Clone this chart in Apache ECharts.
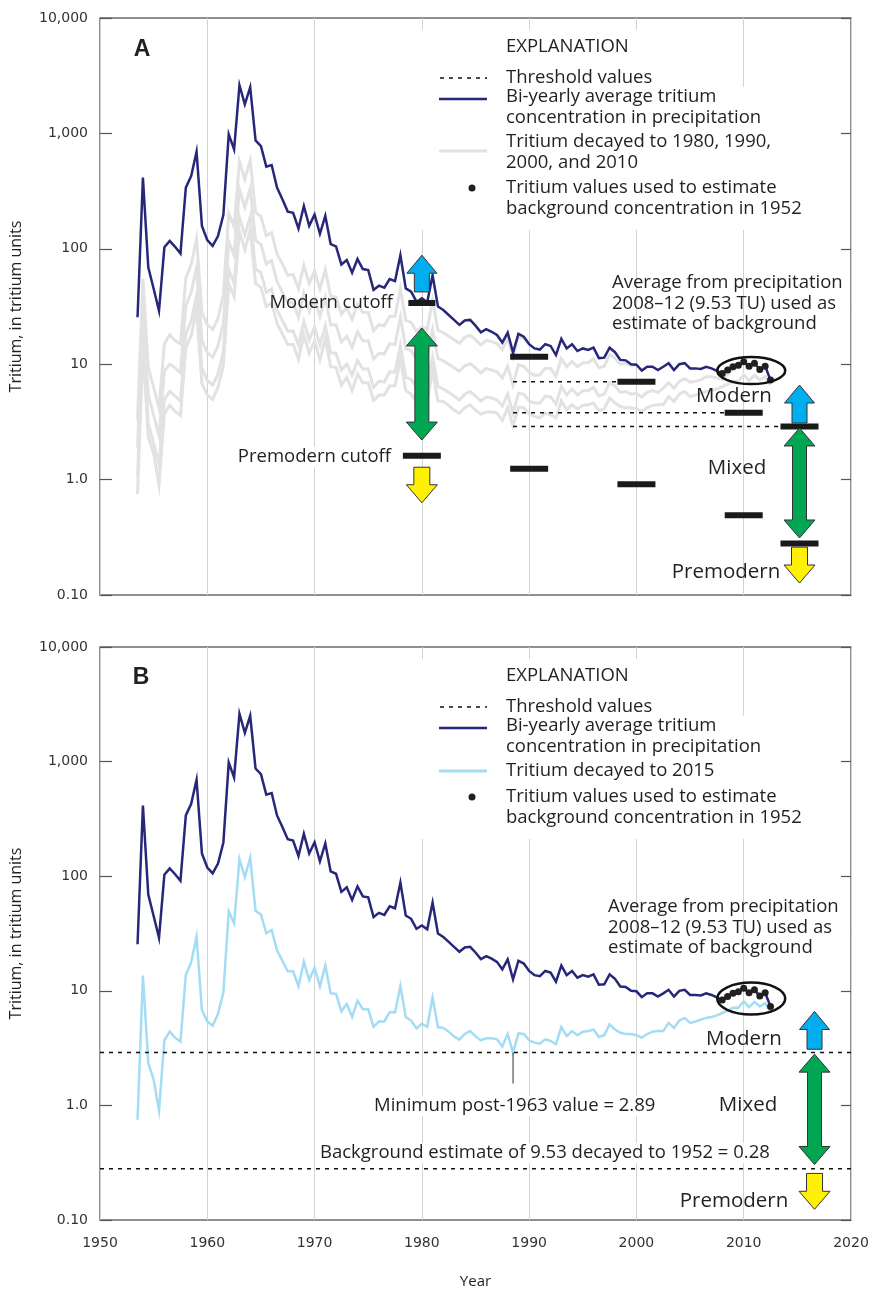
<!DOCTYPE html>
<html>
<head>
<meta charset="utf-8">
<script src="https://cdn.jsdelivr.net/npm/echarts@6/dist/echarts.min.js"></script>
<style>
html, body { margin: 0; padding: 0; background: #fff; }
#container { width: 876px; height: 1290px; }
</style>
</head>
<body>
<div id="container"></div>
<script>
// sampling: one value every half year starting mid-1953
var firstYear = 1953.5;
var stepYears = 0.5;

// bi-yearly average tritium in precipitation, TU
var precipTritium = [
  25.5, 414, 69, 45, 29, 103, 117, 104, 91, 339,
  428, 694, 158, 119, 106, 129, 197, 980, 728, 2617,
  1782, 2512, 870, 777, 515, 532, 339, 269, 210, 205,
  150, 235, 158, 198, 135, 193, 110, 105, 73, 80,
  62, 81.5, 66.7, 65.4, 44, 47.9, 46, 54.7, 52.5, 88,
  45.4, 42.5, 34.8, 37.2, 34.4, 59, 31.6, 29.5, 26.7, 24.2,
  21.9, 23.9, 24.2, 21.6, 18.9, 20.1, 19.1, 17.9, 15.4, 18.8,
  12.6, 18.3, 17.3, 14.9, 13.7, 13.4, 14.9, 14.4, 12.0, 16.6,
  13.7, 14.9, 13.0, 13.7, 13.3, 13.9, 11.3, 11.4, 13.9, 12.7,
  10.9, 10.8, 10.0, 9.9, 8.8, 9.5, 9.5, 8.9, 9.5, 10.2,
  8.9, 10.0, 10.2, 9.2, 9.2, 9.1, 9.5, 9.2, 8.75, 8.3,
  8.9, 9.5, 9.8, 10.5, 9.6, 10.2, 9.0, 9.6, 7.3
];

// panel B light-blue line: record decayed to 2015, TU
var decayedTo2015 = [
  0.75, 13.6, 2.34, 1.68, 0.9, 3.7, 4.4, 3.9, 3.6, 13.8,
  17.7, 29.5, 6.8, 5.4, 4.95, 6.3, 9.7, 49.5, 38.7, 141,
  98, 145, 50, 46.3, 31.7, 33.9, 22.6, 18.3, 14.8, 14.8,
  11.0, 17.9, 12.4, 15.9, 10.9, 16.6, 9.5, 9.4, 6.6, 7.7,
  5.9, 8.2, 6.9, 6.9, 4.85, 5.4, 5.4, 6.5, 6.5, 11.0,
  5.9, 5.5, 4.7, 5.15, 4.85, 8.75, 4.8, 4.75, 4.4, 4.0,
  3.75, 4.2, 4.45, 4.0, 3.7, 3.85, 3.85, 3.77, 3.26, 4.2,
  2.89, 4.25, 4.2, 3.7, 3.53, 3.45, 3.77, 3.65, 3.42, 4.82,
  4.03, 4.45, 4.1, 4.4, 4.45, 4.6, 3.95, 4.1, 5.1, 4.6,
  4.3, 4.2, 4.2, 4.1, 3.9, 4.2, 4.4, 4.45, 4.45, 5.25,
  4.75, 5.5, 5.8, 5.25, 5.4, 5.6, 5.8, 5.9, 6.1, 6.4,
  6.7, 7.1, 7.1, 8.1, 7.2, 8.0, 7.3, 7.8, 6.6
];

// panel A grey lines (estimated from the figure), TU
var greyTo1990 = [
  3.3, 55, 9.4, 6.3, 4.2, 15, 18, 16, 15, 56,
  73, 122, 28, 22, 20, 25, 40, 203, 155, 574,
  402, 583, 207, 191, 130, 138, 90, 74, 59, 60,
  45, 72, 50, 64, 45, 66, 39, 38, 27, 31,
  24.5, 33, 28, 28, 19.5, 22, 21.5, 26, 26, 45,
  24, 23, 19.3, 21, 20, 36, 19.6, 18.8, 17.5, 16.3,
  15.2, 17.1, 17.8, 16.3, 14.7, 16.1, 15.7, 15.1, 13.4, 16.8,
  11.6, 17.3, 16.8, 14.9
];
var greyTo2000 = [
  1.9, 31, 5.4, 3.6, 2.4, 8.7, 10, 9.3, 8.4, 32,
  42, 69, 16, 12.6, 11.5, 14.4, 22.6, 116, 88, 327,
  229, 332, 118, 109, 74, 79, 52, 42, 34, 34,
  25.5, 41, 28.5, 37, 26, 38, 22, 22, 15.6, 17.5,
  14, 19, 16, 16, 11.1, 12.4, 12.3, 15, 14.8, 25.6,
  13.6, 13.1, 11, 12.1, 11.5, 20, 11.2, 10.7, 10, 9.3,
  8.7, 9.7, 10.1, 9.3, 8.4, 9.2, 8.9, 8.6, 7.6, 9.6,
  6.6, 9.9, 9.6, 8.5, 8.0, 8.1, 9.2, 9.2, 7.9, 11.2,
  9.5, 10.6, 9.5, 10.3, 10.3, 11.1, 9.3, 9.6, 12.1, 11.3,
  10, 10.2, 9.7, 9.9
];
var greyTo2010 = [
  1.07, 17.8, 3.05, 2.05, 1.36, 4.95, 5.8, 5.3, 4.8, 18.2,
  23.7, 39.5, 9.2, 7.2, 6.6, 8.2, 12.9, 66, 50.5, 187,
  131, 189, 67, 62, 42, 45, 29.4, 24, 19.3, 19.4,
  14.6, 23.5, 16.2, 20.9, 14.7, 21.6, 12.6, 12.4, 8.9, 10,
  8, 10.8, 9.1, 9.1, 6.3, 7.1, 7.0, 8.6, 8.5, 14.6,
  7.7, 7.4, 6.3, 6.9, 6.6, 11.6, 6.4, 6.1, 5.7, 5.3,
  4.9, 5.5, 5.8, 5.3, 4.8, 5.2, 5.1, 4.9, 4.35, 5.5,
  3.76, 5.6, 5.5, 4.8, 4.6, 4.6, 5.3, 5.2, 4.5, 6.4,
  5.4, 6.1, 5.4, 5.9, 5.9, 6.3, 5.3, 5.5, 6.9, 6.5,
  5.7, 5.8, 5.5, 5.6, 5.2, 5.7, 5.9, 5.7, 6.2, 6.9,
  6.2, 7.1, 7.5, 7.0, 7.1, 7.3, 7.8, 7.8, 7.6, 7.4,
  8.2, 9.0, 9.5, 10.5
];

// samples 2008-12 used for the background estimate
var backgroundFrom = 109;
var backgroundTo = 118;

// panel A cutoff bars
var cutoffYears = [1980, 1990, 2000, 2010, 2015.2];
var modernCutoff = [33.9, 11.6, 7.05, 3.8, 2.89];
var premodernCutoff = [1.61, 1.24, 0.91, 0.49, 0.28];

// threshold lines
var minimumYear = 1988.5;
var minimumValue = 2.89;
var backgroundValue = 0.28;

var yTickLabels = ['0.10', '1.0', '10', '100', '1,000', '10,000'];
var xMin = 1950, xMax = 2020, xStep = 10;

function toPairs(values, from, to) {
  var out = [];
  var last = to === undefined ? values.length - 1 : to;
  for (var i = from || 0; i <= last; i++) {
    out.push([firstYear + i * stepYears, values[i]]);
  }
  return out;
}

var textFont = '"Open Sans", Lato, sans-serif';
var tickFont = '"DejaVu Sans", Verdana, sans-serif';
var textColor = '#231f20';
var navy = '#27277a';
var lightBlue = '#a3dcf5';
var grey = '#e2e2e2';

function makeGrid(top) {
  return { left: 100, top: top, width: 751, height: 577, show: true,
           borderColor: '#6b6b6b', borderWidth: 1.5 };
}

function makeX(gridIndex, showLabels) {
  return {
    type: 'value', gridIndex: gridIndex, min: xMin, max: xMax, interval: xStep,
    axisLine: { show: false }, axisTick: { show: false },
    axisLabel: { show: showLabels, margin: 16, color: '#333', fontSize: 14,
                 fontFamily: tickFont, formatter: function (v) { return String(v); } },
    splitLine: { show: true, lineStyle: { color: '#d2d2d2', width: 1 } },
    name: showLabels ? 'Year' : '', nameLocation: 'middle', nameGap: 54,
    nameTextStyle: { fontFamily: textFont, fontSize: 15, color: textColor }
  };
}

function makeY(gridIndex, side) {
  var left = side === 'left';
  return {
    type: 'log', logBase: 10, gridIndex: gridIndex, position: side,
    min: 0.1, max: 10000,
    axisLine: { show: false },
    axisTick: { show: true, inside: true, length: left ? 12 : 10,
                lineStyle: { color: '#555', width: 1.2 } },
    minorTick: { show: false },
    splitLine: { show: false },
    axisLabel: {
      show: left, margin: 12, color: '#333', fontSize: 14, fontFamily: tickFont,
      formatter: function (v) {
        var e = Math.round(Math.log10(v));
        return yTickLabels[e + 1] || '';
      }
    },
    name: left ? 'Tritium, in tritium units' : '',
    nameLocation: 'middle', nameGap: 76,
    nameTextStyle: { fontFamily: textFont, fontSize: 16, color: textColor }
  };
}

function lineSeries(data, xi, yi, color, width, z) {
  return { type: 'line', xAxisIndex: xi, yAxisIndex: yi, data: data,
           showSymbol: false, symbol: 'none', z: z, silent: true,
           lineStyle: { color: color, width: width, join: 'miter' } };
}

function dottedSeries(data, xi, yi) {
  return { type: 'line', xAxisIndex: xi, yAxisIndex: yi, data: data,
           showSymbol: false, symbol: 'none', z: 6, silent: true,
           lineStyle: { color: '#111', width: 1.5, type: [4, 5] } };
}

function dotSeries(xi, yi) {
  return { type: 'scatter', xAxisIndex: xi, yAxisIndex: yi, z: 7, silent: true,
           symbolSize: 7, itemStyle: { color: '#231f20', opacity: 1 },
           data: toPairs(precipTritium, backgroundFrom, backgroundTo) };
}

var series = [];

// panel A
series.push(lineSeries(toPairs(decayedTo2015), 0, 0, grey, 3, 2));
series.push(lineSeries(toPairs(greyTo2010), 0, 0, grey, 3, 2));
series.push(lineSeries(toPairs(greyTo2000), 0, 0, grey, 3, 2));
series.push(lineSeries(toPairs(greyTo1990), 0, 0, grey, 3, 2));
series.push(lineSeries(toPairs(precipTritium), 0, 0, navy, 2.5, 4));
series.push(dottedSeries([[minimumYear, modernCutoff[2]], [cutoffYears[2], modernCutoff[2]]], 0, 0));
series.push(dottedSeries([[minimumYear, modernCutoff[3]], [cutoffYears[3], modernCutoff[3]]], 0, 0));
series.push(dottedSeries([[minimumYear, modernCutoff[4]], [cutoffYears[4], modernCutoff[4]]], 0, 0));
series.push({
  type: 'scatter', xAxisIndex: 0, yAxisIndex: 0, z: 8, silent: true,
  symbol: 'rect', symbolSize: [38, 6], itemStyle: { color: '#1a1a1a', opacity: 1 },
  data: cutoffYears.slice(1).map(function (y, i) { return [y, modernCutoff[i + 1]]; })
    .concat(cutoffYears.map(function (y, i) { return [y, premodernCutoff[i]]; }))
});
series.push({
  type: 'scatter', xAxisIndex: 0, yAxisIndex: 0, z: 8, silent: true,
  symbol: 'rect', symbolSize: [27, 6], itemStyle: { color: '#1a1a1a', opacity: 1 },
  data: [[cutoffYears[0], modernCutoff[0]]]
});
series.push(dotSeries(0, 0));

// panel B
series.push(lineSeries(toPairs(decayedTo2015), 1, 2, lightBlue, 2.5, 3));
series.push(lineSeries(toPairs(precipTritium), 1, 2, navy, 2.5, 4));
series.push(dottedSeries([[xMin, minimumValue], [xMax, minimumValue]], 1, 2));
series.push(dottedSeries([[xMin, backgroundValue], [xMax, backgroundValue]], 1, 2));
series.push(dotSeries(1, 2));

var option = {
  animation: false,
  backgroundColor: '#fff',
  grid: [makeGrid(18), makeGrid(647)],
  xAxis: [makeX(0, false), makeX(1, true)],
  yAxis: [makeY(0, 'left'), makeY(0, 'right'), makeY(1, 'left'), makeY(1, 'right')],
  series: series
};

var chart = echarts.init(document.getElementById('container'));
chart.setOption(option);

// ---------- annotations ----------
function px(panel, year, value) {
  return chart.convertToPixel({ xAxisIndex: panel, yAxisIndex: panel * 2 }, [year, value]);
}

function upArrow(cx, top, bottom, headW, shaftW, headH) {
  return [[cx, top], [cx + headW / 2, top + headH], [cx + shaftW / 2, top + headH],
          [cx + shaftW / 2, bottom], [cx - shaftW / 2, bottom],
          [cx - shaftW / 2, top + headH], [cx - headW / 2, top + headH]];
}
function downArrow(cx, top, bottom, headW, shaftW, headH) {
  return [[cx - shaftW / 2, top], [cx + shaftW / 2, top], [cx + shaftW / 2, bottom - headH],
          [cx + headW / 2, bottom - headH], [cx, bottom], [cx - headW / 2, bottom - headH],
          [cx - shaftW / 2, bottom - headH]];
}
function doubleArrow(cx, top, bottom, headW, shaftW, headH) {
  return [[cx, top], [cx + headW / 2, top + headH], [cx + shaftW / 2, top + headH],
          [cx + shaftW / 2, bottom - headH], [cx + headW / 2, bottom - headH], [cx, bottom],
          [cx - headW / 2, bottom - headH], [cx - shaftW / 2, bottom - headH],
          [cx - shaftW / 2, top + headH], [cx - headW / 2, top + headH]];
}

var graphics = [];
function poly(points, fill) {
  graphics.push({ type: 'polygon', z: 20, silent: true, shape: { points: points },
                  style: { fill: fill, stroke: '#333', lineWidth: 1 } });
}
function arrowSet(panel, year, stops) {
  // stops: blue top/bottom, green top/bottom, yellow top/bottom, in TU
  var p = stops.map(function (v) { return px(panel, year, v)[1]; });
  var cx = px(panel, year, 1)[0];
  poly(upArrow(cx, p[0], p[1], 30, 15, 18), '#00aeef');
  poly(doubleArrow(cx, p[2], p[3], 31, 14, 18), '#00a651');
  poly(downArrow(cx, p[4], p[5], 31, 16, 18), '#fff200');
}
arrowSet(0, 1980, [88, 42.3, 20.6, 2.2, 1.28, 0.63]);
arrowSet(0, 2015.2, [6.6, 3.09, 2.8, 0.312, 0.26, 0.127]);
arrowSet(1, 2016.6, [6.6, 3.09, 2.8, 0.305, 0.255, 0.124]);

function ellipseAt(panel, year, value, rx, ry) {
  var c = px(panel, year, value);
  graphics.push({ type: 'ellipse', z: 19, silent: true,
                  shape: { cx: c[0], cy: c[1], rx: rx, ry: ry },
                  style: { fill: 'none', stroke: '#111', lineWidth: 2.5 } });
}
ellipseAt(0, 2010.7, 8.8, 34, 13.5);
ellipseAt(1, 2010.7, 8.55, 34, 16);

// leader from the post-1963 minimum
var mp = px(1, minimumYear, minimumValue);
graphics.push({ type: 'line', z: 19, silent: true,
                shape: { x1: mp[0], y1: mp[1], x2: mp[0], y2: mp[1] + 31 },
                style: { stroke: '#333', lineWidth: 1 } });

function label(x, y, text, opts) {
  opts = opts || {};
  var lines = text.split('\n').length;
  var lh = opts.lineHeight || 20.5;
  graphics.push({
    type: 'text', z: 21, silent: true, x: x,
    // y is the centre of the first line
    y: lines > 1 ? y - lh / 2 : y,
    style: {
      text: text, fill: textColor,
      font: (opts.weight || 'normal') + ' ' + (opts.size || 18.5) + 'px ' + (opts.family || textFont),
      align: opts.align || 'left', verticalAlign: lines > 1 ? 'top' : 'middle',
      lineHeight: lh,
      backgroundColor: opts.bg === false ? null : '#fff',
      padding: opts.bg === false ? 0 : [0, 2]
    }
  });
}

function whiteBox(x, y, w, h) {
  graphics.push({ type: 'rect', z: 15, silent: true, shape: { x: x, y: y, width: w, height: h },
                  style: { fill: '#fff' } });
}

function explanation(dy, greyText, greyColor, twoLines) {
  whiteBox(417, 30 + dy, 318, twoLines ? 200 : 180);
  whiteBox(735, 88 + dy, 70, twoLines ? 142 : 122);
  label(504, 47 + dy, 'EXPLANATION');
  graphics.push({ type: 'line', z: 21, silent: true,
                  shape: { x1: 440, y1: 78 + dy, x2: 487, y2: 78 + dy },
                  style: { stroke: '#111', lineWidth: 1.5, lineDash: [4, 5] } });
  label(504, 78 + dy, 'Threshold values');
  graphics.push({ type: 'line', z: 21, silent: true,
                  shape: { x1: 439, y1: 99 + dy, x2: 487, y2: 99 + dy },
                  style: { stroke: navy, lineWidth: 2.5 } });
  label(504, 97 + dy, 'Bi-yearly average tritium\nconcentration in precipitation');
  var gy = twoLines ? 151 : 142;
  graphics.push({ type: 'line', z: 21, silent: true,
                  shape: { x1: 439, y1: gy + dy, x2: 487, y2: gy + dy },
                  style: { stroke: greyColor, lineWidth: 3 } });
  label(504, 142 + dy, greyText);
  var ty = twoLines ? 188 : 168;
  graphics.push({ type: 'circle', z: 21, silent: true,
                  shape: { cx: 472, cy: ty + dy, r: 3.5 }, style: { fill: '#231f20' } });
  label(504, ty + dy, 'Tritium values used to estimate\nbackground concentration in 1952');
}

var bigLabel = { size: 20.5, align: 'center', bg: false };

// panel A texts
label(142, 50, 'A', { weight: 'bold', size: 23, family: '"Liberation Sans", Arial, sans-serif', align: 'center', bg: false });
explanation(0, 'Tritium decayed to 1980, 1990,\n2000, and 2010', grey, true);
label(393, 303, 'Modern cutoff', { align: 'right', bg: false });
label(393, 457, 'Premodern cutoff', { align: 'right' });
label(612, 283, 'Average from precipitation\n2008\u201312 (9.53 TU) used as\nestimate of background', { bg: false });
label(734, 396, 'Modern', bigLabel);
label(737, 468, 'Mixed', bigLabel);
label(726, 572, 'Premodern', bigLabel);

// panel B texts
label(141, 678, 'B', { weight: 'bold', size: 23, family: '"Liberation Sans", Arial, sans-serif', align: 'center', bg: false });
explanation(629, 'Tritium decayed to 2015', lightBlue, false);
label(608, 907, 'Average from precipitation\n2008\u201312 (9.53 TU) used as\nestimate of background', { bg: false });
label(744, 1039, 'Modern', bigLabel);
label(748, 1105, 'Mixed', bigLabel);
label(734, 1201, 'Premodern', bigLabel);
label(372, 1106, 'Minimum post-1963 value = 2.89');
label(318, 1153, 'Background estimate of 9.53 decayed to 1952 = 0.28');

chart.setOption({ graphic: graphics });
</script>
</body>
</html>
